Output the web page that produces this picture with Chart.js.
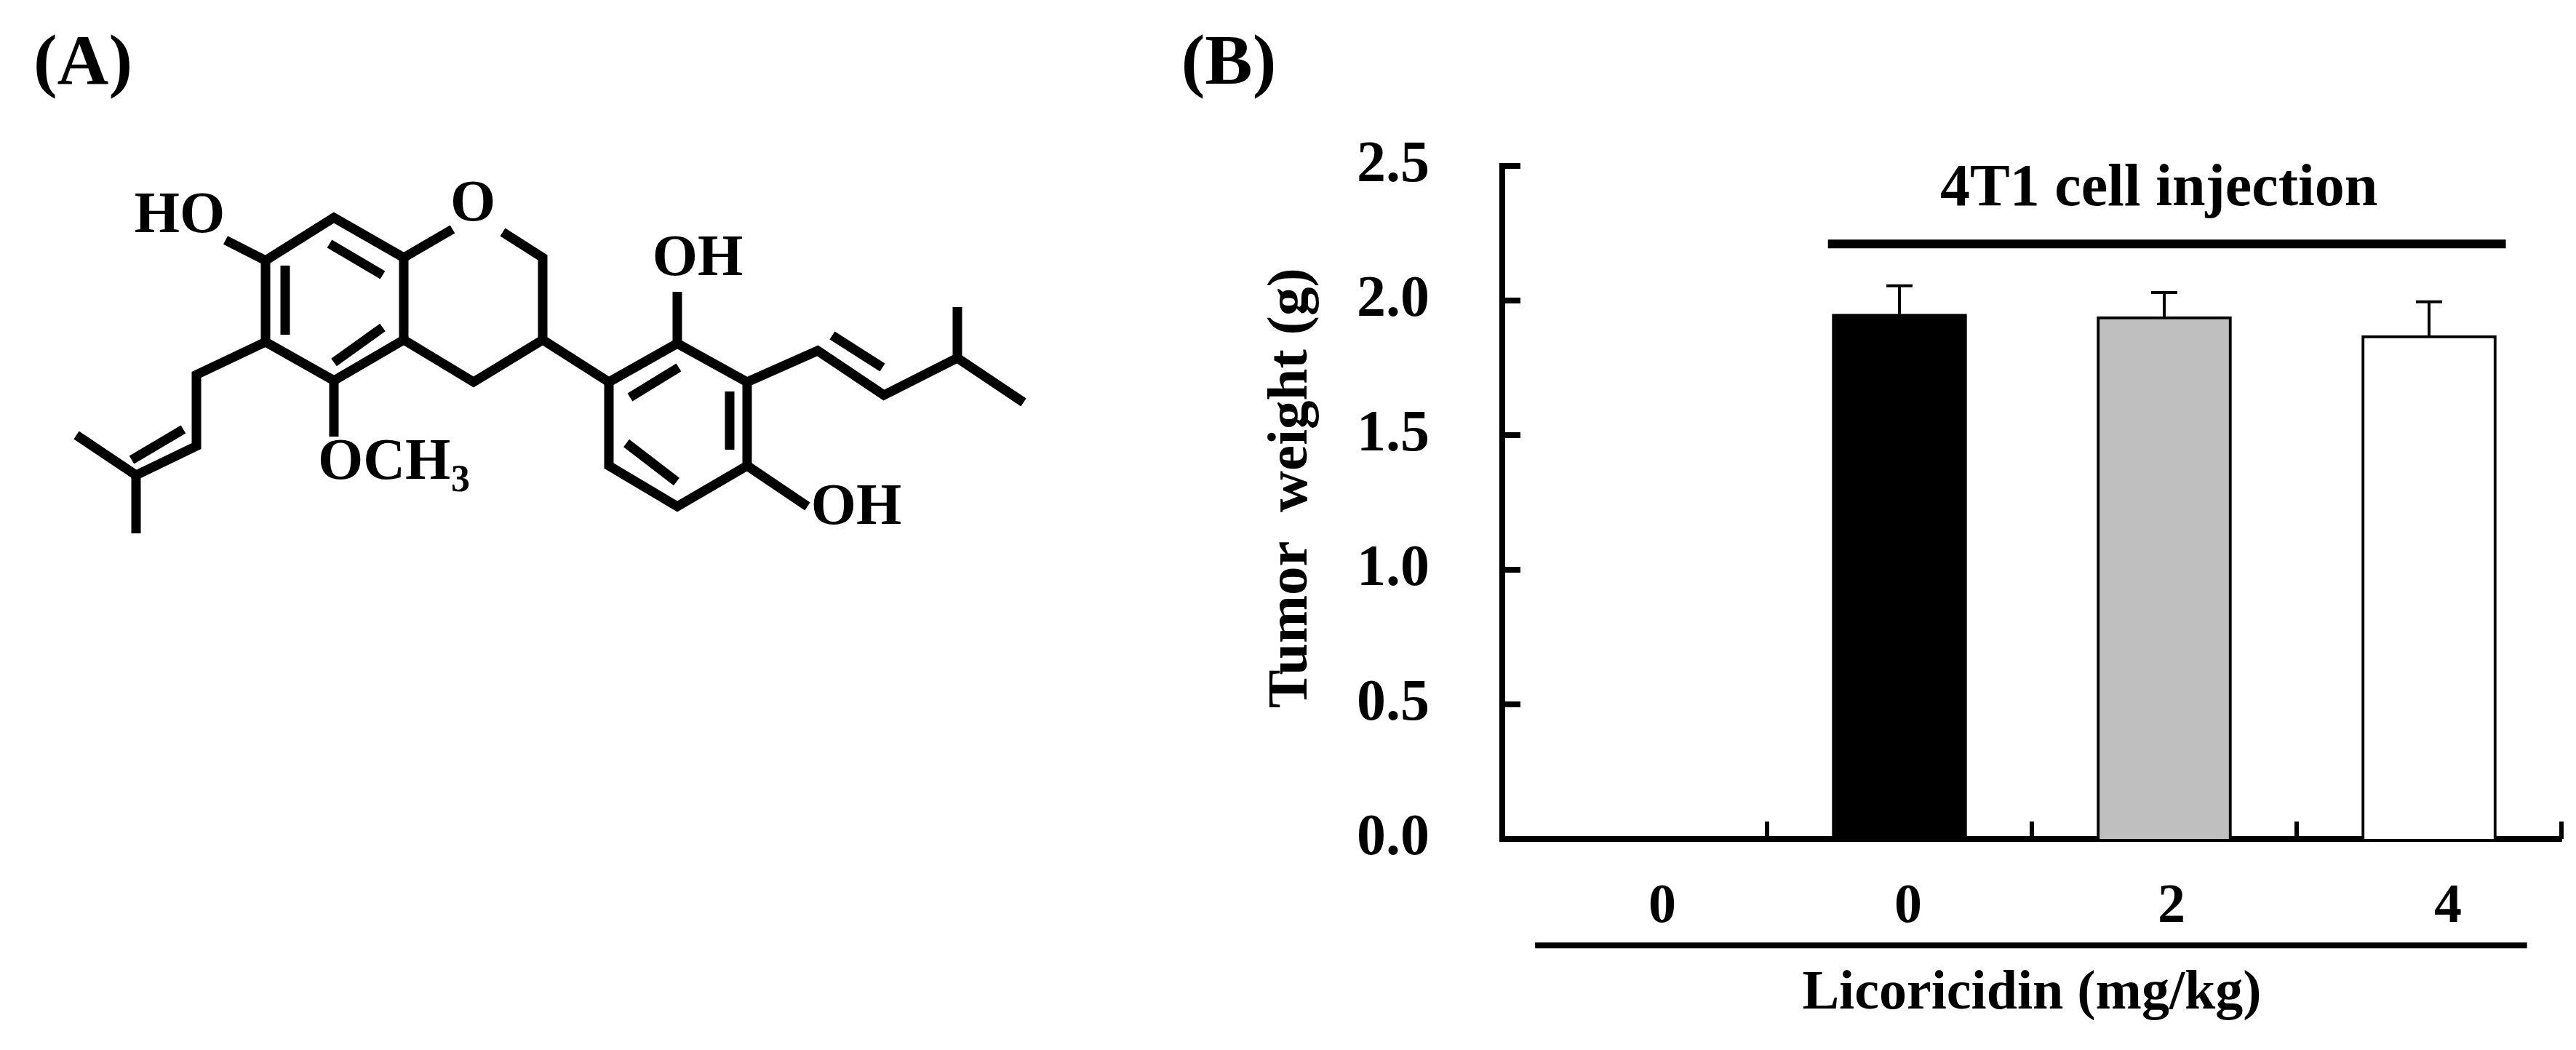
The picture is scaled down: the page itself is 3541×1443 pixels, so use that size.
<!DOCTYPE html>
<html lang="en">
<head>
<meta charset="UTF-8">
<title>Licoricidin tumor weight</title>
<script src="https://cdn.jsdelivr.net/npm/chart.js"></script>
<style>
    html, body { margin: 0; background: #fff; }
    canvas { position: absolute; top: 0; }
    #structure { left: 0; }
    #bars { left: 1600px; }
</style>
</head>
<body>
<canvas id="structure" width="1550" height="800"></canvas>
<canvas id="bars" width="1941" height="1443"></canvas>
<script>
// panel B values
const groups = ['0', '0', '2', '4'];
const weights = [null, 1.95, 1.94, 1.87];
const errorTops = [null, 2.055, 2.03, 1.995];
const barColors = ['#000000', '#000000', '#bfbfbf', '#ffffff'];
const yTickValues = [0, 0.5, 1, 1.5, 2, 2.5];
const yTickLabels = ['0.0', '0.5', '1.0', '1.5', '2.0', '2.5'];
// the group labels do not sit quite under their bars in the original
const groupLabelNudge = [38, 12, 10, 26];

// the two annotation lines, in axis units
const injectionLineX = [0.73, 3.29];
const injectionLineY = 2.21;
const injectionLabel = '4T1 cell injection';
const injectionLabelAt = [1.98, 2.354];
const doseLineX = [-0.376, 3.37];
const doseLineY = -0.395;

// panel A: bonds and atom labels in the units of its own hidden axes
const ringA = [[365,358],[459,299],[555,354],[555,467],[459,523],[365,470],[365,358]];
const ringADouble = [[[392,365],[392,460]], [[453,335],[526,378]], [[459,498],[526,450]]];
const pyranBonds = [[[555,354],[622,315]], [[691,319],[746,354],[746,467],[651,525],[555,467]]];
const ringC = [[837,525],[931,472],[1027,525],[1027,640],[931,696],[837,640],[837,525]];
const ringCDouble = [[[866,546],[933,505]], [[1003,538],[1003,618]], [[861,609],[930,662]]];
const leftChain = [[[365,470],[270,515],[270,613],[187,653],[105,598]], [[187,653],[187,733]], [[252,590],[181,632]]];
const rightChain = [[[1027,525],[1124,482],[1215,543],[1316,492],[1407,553]], [[1316,492],[1316,422]], [[1144,461],[1213,505]]];
const singleBonds = [[[365,358],[310,330]], [[459,523],[459,600]], [[746,467],[837,525]], [[931,472],[931,401]], [[1027,640],[1110,696]]];
const atomLabels = [
    ['HO', 247, 298, 80, 'center'],
    ['O', 650, 282, 80, 'center'],
    ['OH', 959, 357, 80, 'center'],
    ['OH', 1177, 699, 80, 'center'],
    ['OCH', 437, 637, 80, 'left'],
    ['3', 620, 662, 52, 'left'],
    ['(A)', 114, 90, 98, 'center']
];

Chart.defaults.font.family = '"Liberation Serif", "Times New Roman", serif';
Chart.defaults.font.weight = 'bold';
Chart.defaults.color = '#000';

const allBonds = [ringA, ...ringADouble, ...pyranBonds, ringC, ...ringCDouble, ...leftChain, ...rightChain, ...singleBonds];

const atomLabelPlugin = {
    id: 'atomLabels',
    afterDatasetsDraw(chart) {
        const { ctx, scales: { x, y } } = chart;
        ctx.save();
        ctx.fillStyle = '#000';
        ctx.textBaseline = 'middle';
        atomLabels.forEach(([text, px, py, size, align]) => {
            ctx.font = `bold ${size}px "Liberation Serif"`;
            ctx.textAlign = align;
            ctx.fillText(text, x.getPixelForValue(px), y.getPixelForValue(py));
        });
        ctx.restore();
    }
};

new Chart(document.getElementById('structure'), {
    type: 'scatter',
    data: {
        datasets: allBonds.map(bond => ({
            data: bond.map(([x, y]) => ({ x, y })),
            showLine: true,
            borderColor: '#000',
            borderWidth: 13,
            borderJoinStyle: 'miter',
            pointRadius: 0
        }))
    },
    options: {
        responsive: false,
        animation: false,
        plugins: { legend: { display: false }, tooltip: { enabled: false } },
        scales: {
            x: { display: false, min: 0, max: 1550 },
            y: { display: false, min: 0, max: 800, reverse: true }
        }
    },
    plugins: [atomLabelPlugin]
});

// inward ticks, error bars and the annotation lines
const annotationPlugin = {
    id: 'annotations',
    afterDatasetsDraw(chart) {
        const { ctx, chartArea, scales: { x, y } } = chart;
        const line = (x1, y1, x2, y2, w) => {
            ctx.lineWidth = w;
            ctx.beginPath();
            ctx.moveTo(x1, y1);
            ctx.lineTo(x2, y2);
            ctx.stroke();
        };
        ctx.save();
        ctx.strokeStyle = '#000';
        ctx.lineCap = 'butt';

        yTickValues.forEach(v => {
            const py = y.getPixelForValue(v);
            line(chartArea.left, py, chartArea.left + 25, py, 8);
        });
        groups.forEach((g, i) => {
            const px = x.getPixelForValue(i + 0.5);
            line(px, chartArea.bottom, px, chartArea.bottom - 24, 6);
        });

        weights.forEach((w, i) => {
            if (w === null) return;
            const px = x.getPixelForValue(i);
            line(px, y.getPixelForValue(w), px, y.getPixelForValue(errorTops[i]), 4);
            line(px - 18, y.getPixelForValue(errorTops[i]), px + 18, y.getPixelForValue(errorTops[i]), 4);
        });

        line(x.getPixelForValue(injectionLineX[0]), y.getPixelForValue(injectionLineY),
             x.getPixelForValue(injectionLineX[1]), y.getPixelForValue(injectionLineY), 12);
        line(x.getPixelForValue(doseLineX[0]), y.getPixelForValue(doseLineY),
             x.getPixelForValue(doseLineX[1]), y.getPixelForValue(doseLineY), 8);

        ctx.fillStyle = '#000';
        ctx.font = 'bold 82px "Liberation Serif"';
        ctx.textAlign = 'center';
        ctx.textBaseline = 'alphabetic';
        ctx.fillText(injectionLabel, x.getPixelForValue(injectionLabelAt[0]), y.getPixelForValue(injectionLabelAt[1]));

        ctx.font = 'bold 98px "Liberation Serif"';
        ctx.textBaseline = 'middle';
        ctx.fillText('(B)', 1689 - 1600, 90);
        ctx.restore();
    }
};

new Chart(document.getElementById('bars'), {
    type: 'bar',
    data: {
        labels: groups,
        datasets: [{
            data: weights,
            backgroundColor: barColors,
            borderColor: '#000',
            borderWidth: 4,
            barThickness: 185
        }]
    },
    options: {
        responsive: false,
        animation: false,
        layout: { padding: { left: 128, top: 228, right: 20, bottom: 0 } },
        plugins: { legend: { display: false }, tooltip: { enabled: false } },
        scales: {
            x: {
                afterFit(scale) {
                    scale.height = 290;
                    scale.getPixelForTick = i => scale.getPixelForValue(i) + groupLabelNudge[i];
                },
                grid: { display: false },
                border: { color: '#000', width: 8 },
                ticks: { font: { size: 76 }, padding: 41, maxRotation: 0 },
                title: { display: true, text: 'Licoricidin (mg/kg)', font: { size: 76 }, padding: { top: 0, bottom: 31 } }
            },
            y: {
                min: 0,
                max: 2.5,
                afterFit(scale) { scale.width = 337; },
                afterBuildTicks(scale) { scale.ticks = yTickValues.map(value => ({ value })); },
                grid: { display: false },
                border: { color: '#000', width: 8 },
                ticks: { font: { size: 80 }, padding: 92, callback: (v, i) => yTickLabels[i] },
                // leading spaces lift the title, it sits above the axis middle in the original
                title: { display: true, text: '  Tumor  weight (g)', font: { size: 79 }, padding: { top: 0, bottom: 0 } }
            }
        }
    },
    plugins: [annotationPlugin]
});
</script>
</body>
</html>
